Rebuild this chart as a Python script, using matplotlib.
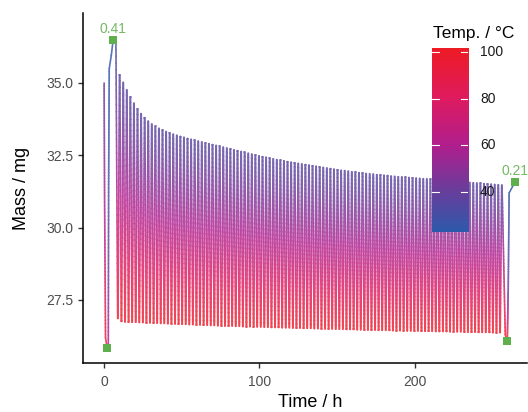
import numpy as np
import matplotlib
matplotlib.use('Agg')
import matplotlib.pyplot as plt
from matplotlib.collections import LineCollection
from matplotlib.colors import LinearSegmentedColormap, Normalize

plt.rcParams['font.family'] = ['Liberation Sans', 'DejaVu Sans']

# ---------------- data ----------------
first_peak_h = 10.0
cycle_period_h = 2.3
peak_temp_c = 36
trough_temp_c = 100

peak_mass = [
    35.28, 35.02, 34.76, 34.52, 34.30, 34.10, 33.94, 33.80, 33.68, 33.58,
    33.50, 33.43, 33.37, 33.32, 33.27, 33.23, 33.19, 33.15, 33.12, 33.08,
    33.05, 33.02, 32.99, 32.96, 32.93, 32.90, 32.87, 32.84, 32.81, 32.78,
    32.75, 32.72, 32.69, 32.66, 32.63, 32.60, 32.57, 32.54, 32.51, 32.48,
    32.45, 32.43, 32.40, 32.38, 32.35, 32.33, 32.31, 32.28, 32.26, 32.24,
    32.22, 32.20, 32.18, 32.16, 32.14, 32.12, 32.10, 32.08, 32.06, 32.04,
    32.02, 32.00, 31.98, 31.97, 31.95, 31.93, 31.92, 31.90, 31.89, 31.87,
    31.86, 31.85, 31.83, 31.82, 31.81, 31.80, 31.78, 31.77, 31.76, 31.75,
    31.74, 31.73, 31.72, 31.71, 31.70, 31.69, 31.68, 31.67, 31.66, 31.65,
    31.64, 31.63, 31.62, 31.61, 31.60, 31.59, 31.58, 31.57, 31.56, 31.55,
    31.54, 31.53, 31.52, 31.51, 31.50, 31.49, 31.48, 31.47,
]
trough_mass = [
    26.86, 26.76, 26.74, 26.74, 26.73, 26.73, 26.72, 26.72, 26.71, 26.71,
    26.70, 26.70, 26.69, 26.69, 26.68, 26.68, 26.67, 26.67, 26.66, 26.66,
    26.65, 26.65, 26.64, 26.64, 26.63, 26.63, 26.62, 26.62, 26.61, 26.61,
    26.60, 26.60, 26.60, 26.59, 26.59, 26.58, 26.58, 26.58, 26.57, 26.57,
    26.57, 26.56, 26.56, 26.55, 26.55, 26.55, 26.54, 26.54, 26.54, 26.53,
    26.53, 26.53, 26.52, 26.52, 26.52, 26.51, 26.51, 26.51, 26.50, 26.50,
    26.50, 26.49, 26.49, 26.49, 26.48, 26.48, 26.48, 26.47, 26.47, 26.47,
    26.46, 26.46, 26.46, 26.46, 26.45, 26.45, 26.45, 26.44, 26.44, 26.44,
    26.44, 26.43, 26.43, 26.43, 26.43, 26.42, 26.42, 26.42, 26.42, 26.41,
    26.41, 26.41, 26.41, 26.40, 26.40, 26.40, 26.40, 26.39, 26.39, 26.39,
    26.39, 26.38, 26.38, 26.38, 26.38, 26.37, 26.37, 26.37,
]

pre_time = [0.0, 0.3, 0.9, 1.9, 2.7, 2.9, 3.3, 4.6, 5.8, 7.6]
pre_mass = [35.0, 31.0, 26.2, 25.83, 26.0, 31.5, 35.5, 35.95, 36.49, 36.4]
pre_temp = [40, 60, 95, 100, 60, 28, 25, 25, 25, 32]

post_time = [258.3, 259.6, 260.2, 260.8, 264.5]
post_mass = [26.3, 26.08, 27.8, 31.2, 31.57]
post_temp = [98, 100, 40, 25, 25]

marker_time = [1.9, 5.8, 259.6, 264.5]
marker_mass = [25.83, 36.49, 26.08, 31.57]
marker_label = ['', '0.41', '', '0.21']

cbar_temps = [23, 40, 60, 80, 101.7]
cbar_colors = ['#2e5aab', '#673f9c', '#b01f8e', '#de1b60', '#ee1c25']
cbar_ticks = [40, 60, 80, 100]

# ---------------- build path ----------------
P = cycle_period_h
t_pts = list(pre_time)
m_pts = list(pre_mass)
T_pts = list(pre_temp)
n_cyc = min(len(peak_mass), len(trough_mass))
for k in range(n_cyc):
    tp = first_peak_h + k * P
    t_pts += [tp - 0.55 * P, tp - 0.45 * P, tp - 0.05 * P, tp + 0.05 * P]
    m_pts += [trough_mass[k], trough_mass[k], peak_mass[k], peak_mass[k]]
    T_pts += [trough_temp_c, trough_temp_c, peak_temp_c, peak_temp_c]
t_pts += post_time
m_pts += post_mass
T_pts += post_temp
t_pts = np.array(t_pts); m_pts = np.array(m_pts); T_pts = np.array(T_pts, float)

# subdivide strokes finely so that colour varies smoothly along each stroke
segs = []
cols = []
for i in range(len(t_pts) - 1):
    sub = 40 if abs(m_pts[i + 1] - m_pts[i]) > 1.0 else 1
    f = np.linspace(0, 1, sub + 1)
    ts = t_pts[i] + (t_pts[i + 1] - t_pts[i]) * f
    ms = m_pts[i] + (m_pts[i + 1] - m_pts[i]) * f
    T0, T1 = T_pts[i], T_pts[i + 1]
    lo, hi = min(T0, T1), max(T0, T1)
    g = f if T1 >= T0 else 1 - f
    Tg = lo + (hi - lo) * g ** 1.3
    pts = np.column_stack([ts, ms])
    for j in range(sub):
        segs.append(pts[j:j + 2])
        cols.append(0.5 * (Tg[j] + Tg[j + 1]))

tmin, tmax = cbar_temps[0], cbar_temps[-1]
pos = [(v - tmin) / (tmax - tmin) for v in cbar_temps]
cmap = LinearSegmentedColormap.from_list('temp', list(zip(pos, cbar_colors)))
norm = Normalize(tmin, tmax)

# line colours: colour-scale colours, slightly lightened like thin strokes
rgba = cmap(norm(np.array(cols)))
rgba[:, :3] = rgba[:, :3] * 0.82 + 0.18

# ---------------- figure ----------------
W, H = 528, 412
fig = plt.figure(figsize=(W / 100, H / 100), dpi=100)
ax = fig.add_axes([83 / W, (H - 363) / H, 444 / W, 350.3 / H])
ax.set_xlim(-13.6, 272.3)
ax.set_ylim(25.32, 37.43)

lc = LineCollection(segs, colors=rgba, linewidths=1.2, capstyle='round')
ax.add_collection(lc)

ax.plot(marker_time, marker_mass, 's', color='#5db04b', markersize=5.3, zorder=5,
        markeredgewidth=0)
for t, m, lab in zip(marker_time, marker_mass, marker_label):
    if lab:
        ax.annotate(lab, (t, m), xytext=(0, 8.2), textcoords='offset points',
                    ha='center', va='center', fontsize=10, color='#74b964',
                    annotation_clip=False)

for s in ['top', 'right']:
    ax.spines[s].set_visible(False)
for s in ['left', 'bottom']:
    ax.spines[s].set_linewidth(1.1)
    ax.spines[s].set_color('black')

ax.set_xticks([0, 100, 200])
ax.set_yticks([27.5, 30.0, 32.5, 35.0])
ax.set_yticklabels(['27.5', '30.0', '32.5', '35.0'])
ax.tick_params(length=3.6, width=1.0, color='#333333', labelsize=10,
               labelcolor='#4d4d4d')
ax.tick_params(axis='y', pad=3.5)
ax.tick_params(axis='x', pad=5)

fig.text(310 / W, 1 - 407 / H, 'Time / h', ha='center', va='baseline',
         fontsize=13, color='black')
fig.text(22 / W, 1 - 188 / H, 'Mass / mg', ha='center', va='center',
         rotation=90, fontsize=13, color='black')

# ---------------- colour bar ----------------
cax = fig.add_axes([432 / W, (H - 232) / H, 36 / W, 184 / H])
grad = np.linspace(tmin, tmax, 300)[:, None]
cax.imshow(grad, extent=[0, 1, tmin, tmax], origin='lower', aspect='auto',
           cmap=cmap, norm=norm, interpolation='bilinear')
cax.set_xlim(0, 1)
cax.set_ylim(tmin, tmax)
cax.axis('off')
for v in cbar_ticks:
    cax.plot([0, 0.2], [v, v], color='white', lw=0.8)
    cax.plot([0.8, 1.0], [v, v], color='white', lw=0.8)
    cax.text(48 / 36, v, str(v), transform=cax.get_yaxis_transform(),
             ha='left', va='center', fontsize=10, color='#1a1a1a')
fig.text(433 / W, 1 - 37.7 / H, 'Temp. / °C', ha='left', va='baseline',
         fontsize=12.5, color='black')

fig.savefig('out.png', dpi=100)
